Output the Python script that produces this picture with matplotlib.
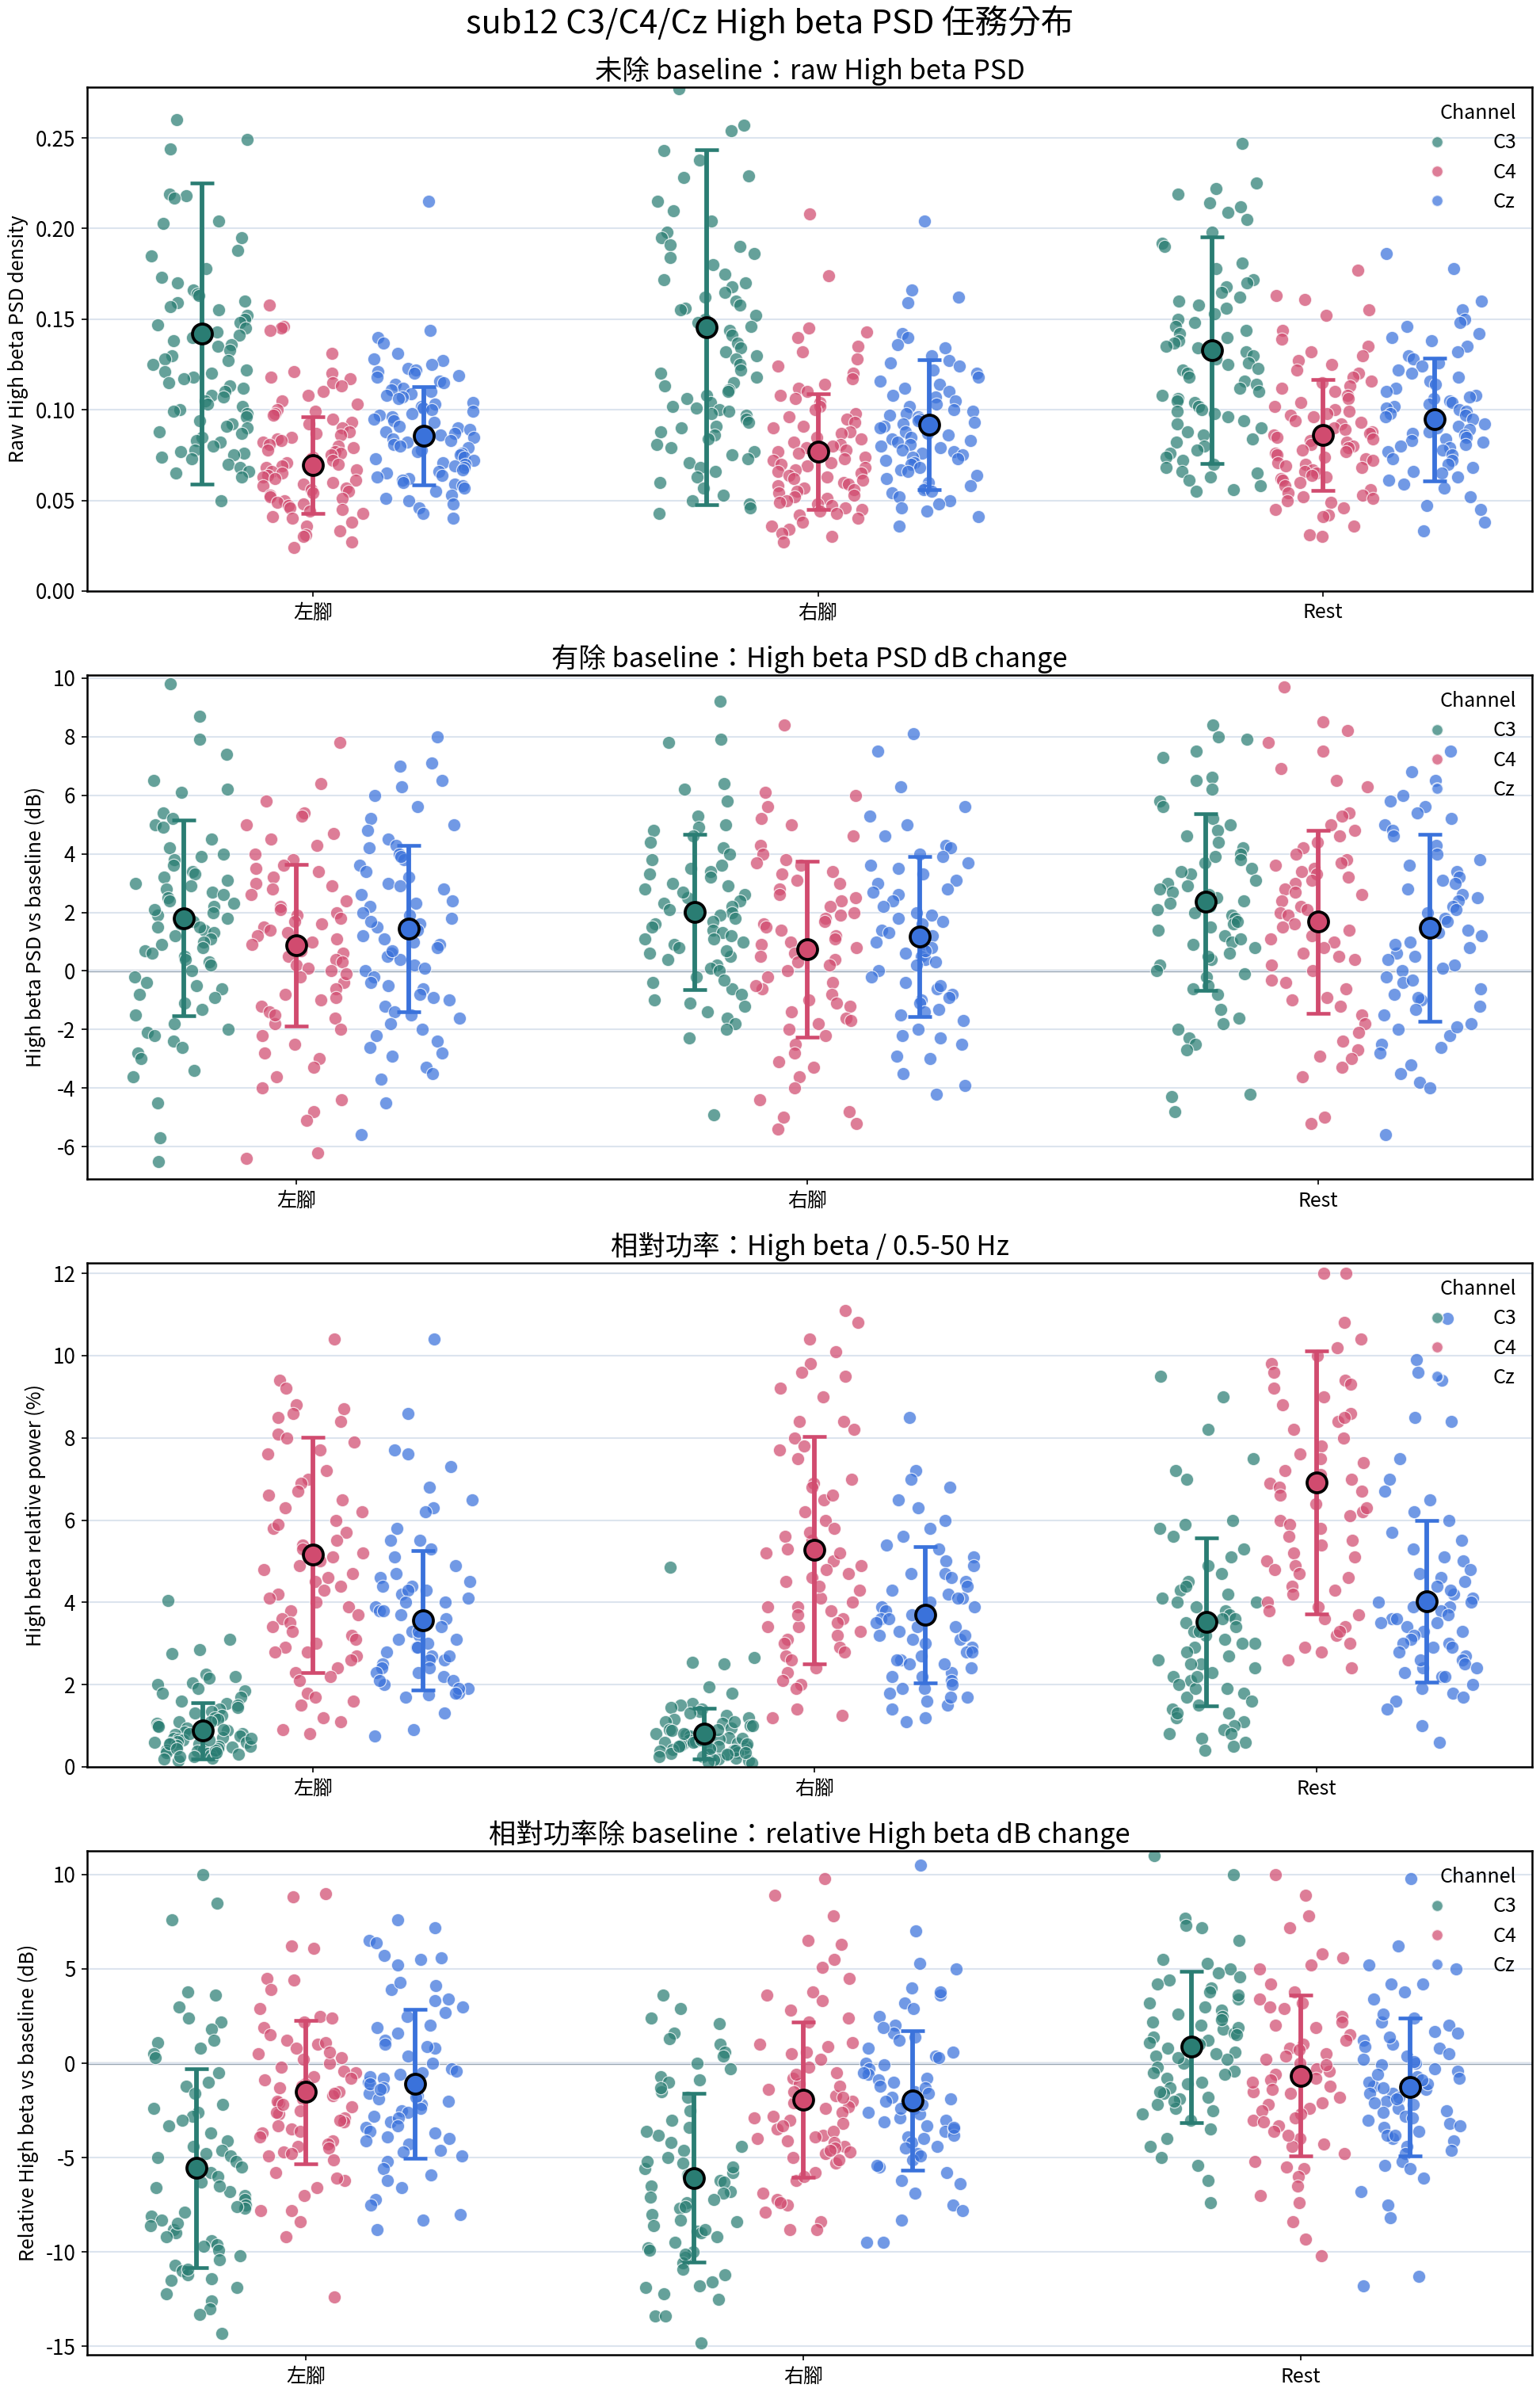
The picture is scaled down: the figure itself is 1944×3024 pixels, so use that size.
import matplotlib
matplotlib.use("Agg")
import matplotlib.pyplot as plt
import numpy as np
from matplotlib.lines import Line2D

plt.rcParams["font.family"] = ["Noto Sans CJK TC", "DejaVu Sans"]
plt.rcParams["axes.unicode_minus"] = False

# ----- categories / labels ---------------------------------------------------
tasks = ["左腳", "右腳", "Rest"]
channels = ["C3", "C4", "Cz"]
suptitle = "sub12 C3/C4/Cz High beta PSD 任務分布"
titles = [
    "未除 baseline：raw High beta PSD",
    "有除 baseline：High beta PSD dB change",
    "相對功率：High beta / 0.5-50 Hz",
    "相對功率除 baseline：relative High beta dB change",
]
ylabels = [
    "Raw High beta PSD density",
    "High beta PSD vs baseline (dB)",
    "High beta relative power (%)",
    "Relative High beta vs baseline (dB)",
]

# ----- panel 1: raw PSD ----------------------------------------------------
raw_left_c3 = [0.260, 0.249, 0.244, 0.219, 0.218, 0.217, 0.204, 0.203, 0.195, 0.188, 0.185, 0.178,
               0.173, 0.170, 0.166, 0.164, 0.163, 0.160, 0.159, 0.157, 0.155, 0.152, 0.150, 0.148,
               0.147, 0.145, 0.143, 0.141, 0.140, 0.138, 0.136, 0.135, 0.133, 0.130, 0.128, 0.127,
               0.125, 0.122, 0.121, 0.120, 0.118, 0.117, 0.115, 0.113, 0.112, 0.110, 0.108, 0.107,
               0.105, 0.103, 0.102, 0.100, 0.099, 0.098, 0.096, 0.094, 0.092, 0.091, 0.090, 0.088,
               0.087, 0.085, 0.083, 0.082, 0.080, 0.078, 0.077, 0.076, 0.075, 0.074, 0.073, 0.070,
               0.068, 0.066, 0.065, 0.063, 0.050]
raw_left_c4 = [0.158, 0.146, 0.145, 0.144, 0.131, 0.121, 0.120, 0.118, 0.117, 0.115, 0.113, 0.110,
               0.108, 0.105, 0.103, 0.100, 0.099, 0.098, 0.097, 0.095, 0.093, 0.092, 0.090, 0.088,
               0.087, 0.086, 0.085, 0.084, 0.083, 0.082, 0.081, 0.080, 0.079, 0.078, 0.077, 0.076,
               0.075, 0.074, 0.073, 0.072, 0.071, 0.070, 0.069, 0.068, 0.067, 0.066, 0.065, 0.064,
               0.063, 0.062, 0.061, 0.060, 0.059, 0.058, 0.057, 0.056, 0.055, 0.054, 0.053, 0.052,
               0.051, 0.050, 0.049, 0.048, 0.047, 0.046, 0.045, 0.044, 0.043, 0.041, 0.040, 0.038,
               0.036, 0.033, 0.031, 0.030, 0.027, 0.024]
raw_left_cz = [0.215, 0.144, 0.140, 0.137, 0.131, 0.128, 0.127, 0.125, 0.123, 0.122, 0.121, 0.120,
               0.119, 0.118, 0.116, 0.115, 0.114, 0.112, 0.111, 0.110, 0.109, 0.108, 0.107, 0.106,
               0.104, 0.103, 0.102, 0.101, 0.100, 0.099, 0.098, 0.097, 0.096, 0.095, 0.094, 0.093,
               0.091, 0.090, 0.089, 0.088, 0.087, 0.086, 0.085, 0.084, 0.083, 0.082, 0.081, 0.080,
               0.079, 0.078, 0.077, 0.076, 0.075, 0.074, 0.073, 0.072, 0.071, 0.070, 0.069, 0.068,
               0.067, 0.066, 0.065, 0.064, 0.063, 0.062, 0.061, 0.060, 0.059, 0.058, 0.057, 0.055,
               0.053, 0.051, 0.050, 0.048, 0.046, 0.043, 0.040]
raw_right_c3 = [0.277, 0.257, 0.254, 0.243, 0.238, 0.229, 0.228, 0.215, 0.210, 0.204, 0.198, 0.195,
                0.191, 0.190, 0.186, 0.184, 0.180, 0.175, 0.172, 0.170, 0.168, 0.165, 0.162, 0.160,
                0.158, 0.156, 0.155, 0.152, 0.150, 0.148, 0.146, 0.144, 0.141, 0.137, 0.134, 0.132,
                0.130, 0.128, 0.125, 0.122, 0.120, 0.118, 0.115, 0.113, 0.111, 0.110, 0.108, 0.106,
                0.104, 0.102, 0.101, 0.100, 0.099, 0.098, 0.097, 0.095, 0.093, 0.091, 0.090, 0.088,
                0.086, 0.084, 0.081, 0.079, 0.077, 0.075, 0.073, 0.071, 0.068, 0.066, 0.063, 0.060,
                0.057, 0.053, 0.050, 0.048, 0.046, 0.043]
raw_right_c4 = [0.208, 0.174, 0.145, 0.143, 0.140, 0.135, 0.132, 0.128, 0.124, 0.120, 0.117, 0.114,
                0.112, 0.110, 0.108, 0.106, 0.104, 0.102, 0.100, 0.098, 0.096, 0.095, 0.093, 0.091,
                0.090, 0.088, 0.087, 0.085, 0.084, 0.082, 0.081, 0.080, 0.079, 0.078, 0.077, 0.076,
                0.075, 0.074, 0.073, 0.072, 0.071, 0.070, 0.069, 0.068, 0.067, 0.066, 0.065, 0.064,
                0.063, 0.062, 0.061, 0.060, 0.059, 0.058, 0.057, 0.056, 0.055, 0.054, 0.053, 0.052,
                0.051, 0.050, 0.049, 0.048, 0.047, 0.046, 0.045, 0.044, 0.043, 0.042, 0.040, 0.038,
                0.036, 0.034, 0.032, 0.030, 0.027]
raw_right_cz = [0.204, 0.166, 0.162, 0.159, 0.142, 0.140, 0.136, 0.134, 0.130, 0.127, 0.126, 0.124,
                0.122, 0.120, 0.118, 0.116, 0.114, 0.112, 0.110, 0.108, 0.107, 0.105, 0.103, 0.102,
                0.100, 0.099, 0.098, 0.097, 0.096, 0.095, 0.094, 0.093, 0.092, 0.091, 0.090, 0.089,
                0.088, 0.087, 0.086, 0.085, 0.084, 0.083, 0.082, 0.081, 0.080, 0.079, 0.078, 0.077,
                0.076, 0.075, 0.074, 0.073, 0.072, 0.071, 0.070, 0.068, 0.067, 0.066, 0.064, 0.062,
                0.060, 0.058, 0.057, 0.056, 0.055, 0.054, 0.052, 0.050, 0.048, 0.046, 0.044, 0.041,
                0.036]
raw_rest_c3 = [0.247, 0.225, 0.222, 0.219, 0.214, 0.212, 0.209, 0.205, 0.198, 0.192, 0.190, 0.181,
               0.178, 0.172, 0.170, 0.168, 0.165, 0.162, 0.160, 0.158, 0.156, 0.153, 0.150, 0.148,
               0.146, 0.144, 0.142, 0.140, 0.138, 0.137, 0.135, 0.134, 0.132, 0.130, 0.128, 0.126,
               0.125, 0.123, 0.122, 0.120, 0.118, 0.116, 0.114, 0.112, 0.110, 0.108, 0.106, 0.105,
               0.104, 0.102, 0.100, 0.099, 0.098, 0.096, 0.094, 0.092, 0.090, 0.088, 0.086, 0.084,
               0.082, 0.080, 0.078, 0.076, 0.074, 0.072, 0.070, 0.068, 0.066, 0.065, 0.063, 0.061,
               0.058, 0.056, 0.055]
raw_rest_c4 = [0.177, 0.163, 0.161, 0.155, 0.152, 0.144, 0.139, 0.135, 0.132, 0.130, 0.127, 0.125,
               0.122, 0.120, 0.118, 0.116, 0.115, 0.113, 0.112, 0.110, 0.108, 0.106, 0.104, 0.102,
               0.100, 0.099, 0.098, 0.097, 0.096, 0.094, 0.093, 0.092, 0.090, 0.089, 0.088, 0.087,
               0.086, 0.085, 0.084, 0.083, 0.082, 0.081, 0.080, 0.079, 0.078, 0.077, 0.076, 0.075,
               0.074, 0.073, 0.072, 0.071, 0.070, 0.069, 0.068, 0.067, 0.066, 0.065, 0.064, 0.063,
               0.062, 0.061, 0.060, 0.058, 0.056, 0.054, 0.053, 0.052, 0.051, 0.050, 0.049, 0.046,
               0.045, 0.042, 0.041, 0.036, 0.031, 0.030]
raw_rest_cz = [0.186, 0.178, 0.160, 0.155, 0.150, 0.148, 0.146, 0.142, 0.140, 0.138, 0.135, 0.132,
               0.130, 0.128, 0.126, 0.124, 0.122, 0.120, 0.118, 0.116, 0.114, 0.112, 0.110, 0.108,
               0.107, 0.106, 0.105, 0.104, 0.103, 0.102, 0.101, 0.100, 0.099, 0.098, 0.097, 0.096,
               0.095, 0.094, 0.093, 0.092, 0.091, 0.090, 0.089, 0.088, 0.087, 0.086, 0.085, 0.084,
               0.083, 0.082, 0.081, 0.080, 0.079, 0.078, 0.077, 0.075, 0.073, 0.072, 0.070, 0.068,
               0.066, 0.065, 0.063, 0.061, 0.059, 0.057, 0.052, 0.047, 0.045, 0.038, 0.033]

# ----- panel 2: PSD dB change vs baseline ----------------------------------
db_left_c3 = [9.8, 8.7, 7.9, 7.4, 6.5, 6.2, 6.1, 5.4, 5.2, 5.0, 4.9, 4.5, 4.2, 4.0, 3.9, 3.8, 3.6,
              3.4, 3.3, 3.2, 3.0, 2.9, 2.8, 2.7, 2.6, 2.5, 2.4, 2.3, 2.2, 2.0, 1.9, 1.8, 1.7, 1.6,
              1.5, 1.4, 1.3, 1.2, 1.1, 1.0, 0.9, 0.8, 0.7, 0.5, 0.4, 0.3, 0.2, 0.0, -0.2, -0.4,
              -0.5, -0.6, -0.8, -0.9, -1.1, -1.3, -1.5, -1.8, -2.0, -2.1, -2.2, -2.4, -2.6, -2.8,
              -3.0, -3.4, -3.6, -4.5, -5.7, -6.5, 3.1, 2.1, 1.5, 0.6]
db_left_c4 = [7.8, 6.4, 5.8, 5.4, 5.3, 5.0, 4.7, 4.5, 4.3, 4.0, 3.8, 3.6, 3.4, 3.2, 3.0, 2.8, 2.6,
              2.4, 2.2, 2.0, 1.9, 1.8, 1.7, 1.5, 1.4, 1.3, 1.2, 1.0, 0.9, 0.8, 0.7, 0.6, 0.5, 0.4,
              0.2, 0.1, 0.0, -0.2, -0.4, -0.6, -0.8, -1.0, -1.2, -1.4, -1.6, -1.8, -2.0, -2.2,
              -2.5, -2.8, -3.0, -3.3, -3.6, -4.0, -4.4, -4.8, -5.1, -6.2, -6.4, 3.5, 2.9, 2.1,
              1.6, 1.1, 0.3, -0.1, -0.9, -1.5]
db_left_cz = [8.0, 7.1, 7.0, 6.5, 6.3, 6.0, 5.6, 5.2, 5.0, 4.8, 4.5, 4.3, 4.2, 4.0, 3.8, 3.6, 3.4,
              3.2, 3.0, 2.8, 2.6, 2.4, 2.2, 2.0, 1.9, 1.8, 1.6, 1.5, 1.4, 1.3, 1.2, 1.0, 0.9, 0.8,
              0.6, 0.5, 0.4, 0.2, 0.0, -0.2, -0.4, -0.6, -0.8, -1.0, -1.2, -1.4, -1.6, -1.8, -2.0,
              -2.2, -2.4, -2.6, -2.8, -2.9, -3.3, -3.5, -3.7, -4.5, -5.6, 3.9, 2.9, 2.3, 1.7,
              1.1, 0.7, 0.1, -0.5, -0.9, -1.5]
db_right_c3 = [9.2, 7.9, 7.8, 6.4, 6.2, 5.8, 5.3, 5.0, 4.9, 4.8, 4.6, 4.4, 4.2, 4.0, 3.8, 3.6, 3.5,
               3.4, 3.2, 3.0, 2.9, 2.8, 2.6, 2.5, 2.4, 2.3, 2.2, 2.1, 2.0, 1.9, 1.8, 1.7, 1.6, 1.5,
               1.4, 1.3, 1.2, 1.1, 1.0, 0.9, 0.8, 0.6, 0.5, 0.4, 0.2, 0.1, 0.0, -0.2, -0.4, -0.6,
               -0.8, -1.0, -1.2, -1.4, -1.6, -1.8, -2.0, -2.3, -4.9, 3.3, 2.7, 2.0, 1.1, 0.7,
               -0.3, -1.1]
db_right_c4 = [8.4, 6.1, 6.0, 5.6, 5.2, 5.0, 4.6, 4.3, 4.0, 3.8, 3.6, 3.4, 3.3, 3.1, 3.0, 2.8, 2.6,
               2.4, 2.2, 2.0, 1.9, 1.8, 1.6, 1.5, 1.4, 1.2, 1.0, 0.9, 0.8, 0.6, 0.5, 0.4, 0.2, 0.0,
               -0.2, -0.4, -0.6, -0.8, -1.0, -1.2, -1.4, -1.6, -1.8, -2.0, -2.2, -2.5, -2.8, -3.1,
               -3.3, -3.6, -4.0, -4.4, -4.8, -5.0, -5.2, -5.4, 3.7, 2.5, 1.7, 1.1, 0.3, -0.5,
               -1.1, -1.7]
db_right_cz = [8.1, 7.5, 6.3, 5.6, 5.3, 5.0, 4.6, 4.3, 4.2, 4.0, 3.9, 3.7, 3.5, 3.3, 3.1, 3.0, 2.8,
               2.6, 2.4, 2.2, 2.0, 1.9, 1.8, 1.6, 1.4, 1.2, 1.1, 1.0, 0.9, 0.8, 0.6, 0.5, 0.4, 0.2,
               0.0, -0.2, -0.4, -0.6, -0.8, -1.0, -1.1, -1.3, -1.5, -1.7, -2.0, -2.2, -2.5, -2.9,
               -3.0, -3.5, -3.9, -4.2, 2.7, 1.7, 1.3, 0.7, 0.3, -0.5, -0.9, -1.4, -2.3, 3.6]
db_rest_c3 = [8.4, 8.0, 7.9, 7.5, 7.3, 6.6, 6.5, 6.2, 5.8, 5.6, 5.2, 5.0, 4.8, 4.6, 4.4, 4.2, 4.0,
              3.8, 3.7, 3.5, 3.3, 3.1, 3.0, 2.8, 2.7, 2.5, 2.4, 2.3, 2.2, 2.1, 2.0, 1.9, 1.8, 1.6,
              1.5, 1.4, 1.2, 1.0, 0.9, 0.8, 0.6, 0.4, 0.2, 0.0, -0.2, -0.5, -0.8, -1.3, -1.6, -1.8,
              -2.0, -2.3, -2.5, -2.7, -4.2, -4.3, -4.8, 3.9, 3.4, 2.9, 2.6, 1.7, 1.1, 0.5, -0.1,
              -0.6]
db_rest_c4 = [9.7, 8.5, 8.2, 7.8, 7.5, 6.9, 6.5, 6.3, 5.4, 5.3, 5.0, 4.8, 4.6, 4.4, 4.2, 4.0, 3.8,
              3.6, 3.5, 3.4, 3.3, 3.1, 3.0, 2.8, 2.6, 2.4, 2.2, 2.0, 1.9, 1.8, 1.6, 1.5, 1.4, 1.2,
              1.0, 0.8, 0.6, 0.4, 0.2, 0.0, -0.3, -0.6, -0.9, -1.2, -1.5, -1.8, -2.1, -2.4, -2.7,
              -3.0, -3.3, -3.6, -5.0, -5.2, 3.7, 3.2, 2.7, 2.1, 1.7, 1.1, 0.5, -0.4, -1.0, -2.9]
db_rest_cz = [7.5, 6.8, 6.5, 6.0, 5.8, 5.6, 5.4, 5.2, 5.0, 4.8, 4.6, 4.3, 4.0, 3.8, 3.6, 3.4, 3.2,
              3.0, 2.8, 2.6, 2.4, 2.2, 2.0, 1.8, 1.6, 1.4, 1.2, 1.0, 0.8, 0.6, 0.4, 0.2, 0.0, -0.2,
              -0.4, -0.6, -0.8, -1.0, -1.2, -1.5, -1.8, -2.0, -2.2, -2.5, -2.8, -3.2, -3.5, -3.8,
              -4.0, -5.6, 3.1, 2.5, 2.1, 1.7, 1.3, 0.9, 0.5, 0.1, -0.3, -0.9, -1.3, -1.9, -2.6]

# ----- panel 3: relative power (%) -----------------------------------------
rel_left_c3 = [4.05, 3.1, 2.85, 2.75, 2.25, 2.2, 2.15, 2.05, 2.0, 1.9, 1.85, 1.8, 1.7, 1.6, 1.55,
               1.5, 1.45, 1.4, 1.35, 1.3, 1.25, 1.2, 1.15, 1.1, 1.05, 1.0, 0.98, 0.95, 0.9, 0.88,
               0.85, 0.8, 0.78, 0.75, 0.72, 0.7, 0.68, 0.65, 0.62, 0.6, 0.58, 0.55, 0.52, 0.5, 0.48,
               0.45, 0.43, 0.4, 0.38, 0.35, 0.33, 0.3, 0.28, 0.25, 0.22, 0.2, 0.15, 0.5, 0.55, 0.6,
               0.4, 0.35, 0.45, 0.65, 0.7, 0.3, 0.25, 0.9, 1.1, 0.8]
rel_left_c4 = [10.4, 9.4, 9.2, 8.8, 8.7, 8.6, 8.5, 8.4, 8.1, 8.0, 7.9, 7.7, 7.6, 7.2, 7.0, 6.9, 6.7,
               6.5, 6.3, 6.2, 6.0, 5.8, 5.7, 5.5, 5.4, 5.3, 5.2, 5.0, 4.9, 4.7, 4.6, 4.5, 4.4, 4.2,
               4.1, 4.0, 3.9, 3.8, 3.6, 3.5, 3.4, 3.3, 3.2, 3.1, 3.0, 2.9, 2.8, 2.7, 2.6, 2.4, 2.3,
               2.2, 2.1, 1.8, 1.7, 1.6, 1.5, 1.2, 1.1, 0.9, 0.8, 5.9, 5.1, 4.8, 4.3, 3.7, 2.8, 6.6]
rel_left_cz = [10.4, 8.6, 7.7, 7.6, 7.3, 6.8, 6.5, 6.3, 6.2, 5.8, 5.5, 5.5, 5.3, 5.1, 4.9, 4.7, 4.6,
               4.5, 4.4, 4.3, 4.2, 4.1, 4.0, 3.9, 3.8, 3.7, 3.6, 3.5, 3.4, 3.3, 3.2, 3.1, 3.0, 2.9,
               2.8, 2.7, 2.6, 2.5, 2.4, 2.3, 2.2, 2.1, 2.0, 1.9, 1.8, 1.7, 1.3, 0.9, 0.75, 4.3, 4.0,
               3.7, 3.5, 3.3, 2.9, 2.6, 2.4, 2.1, 1.9, 1.75, 4.4, 3.8, 3.1, 2.7, 2.3, 1.8]
rel_right_c3 = [4.85, 2.65, 2.55, 2.5, 1.95, 1.8, 1.55, 1.5, 1.45, 1.4, 1.35, 1.3, 1.25, 1.2, 1.15,
                1.1, 1.05, 1.0, 0.95, 0.9, 0.88, 0.85, 0.8, 0.78, 0.75, 0.72, 0.7, 0.68, 0.65, 0.62,
                0.6, 0.58, 0.55, 0.52, 0.5, 0.48, 0.45, 0.43, 0.4, 0.38, 0.35, 0.32, 0.3, 0.28, 0.25,
                0.22, 0.2, 0.18, 0.15, 0.12, 0.1, 1.0, 0.5, 0.6, 0.4, 0.3, 0.7, 0.9, 0.55, 0.45,
                0.35, 0.65, 0.8, 1.1, 0.25, 0.5]
rel_right_c4 = [11.1, 10.8, 10.4, 10.1, 9.8, 9.6, 9.5, 9.2, 9.0, 8.4, 8.4, 8.2, 8.0, 7.8, 7.7, 7.5,
                7.0, 6.9, 6.8, 6.5, 6.2, 6.0, 5.8, 5.6, 5.5, 5.3, 5.2, 5.0, 4.9, 4.7, 4.6, 4.5, 4.3,
                4.1, 4.0, 3.9, 3.8, 3.6, 3.5, 3.4, 3.3, 3.2, 3.1, 3.0, 2.9, 2.7, 2.6, 2.4, 2.3, 2.1,
                2.0, 1.9, 1.4, 1.25, 1.2, 5.7, 5.2, 4.4, 3.9, 3.4, 2.8, 6.6, 4.8, 3.7]
rel_right_cz = [8.5, 7.2, 7.0, 6.8, 6.5, 6.3, 6.0, 5.8, 5.6, 5.4, 5.3, 5.1, 5.0, 4.9, 4.7, 4.6, 4.5,
                4.4, 4.2, 4.1, 4.0, 3.9, 3.8, 3.7, 3.6, 3.5, 3.4, 3.3, 3.2, 3.1, 3.0, 2.9, 2.8, 2.7,
                2.6, 2.5, 2.4, 2.3, 2.2, 2.1, 2.0, 1.9, 1.8, 1.7, 1.6, 1.5, 1.4, 1.2, 1.1, 4.3, 3.9,
                3.6, 3.4, 3.1, 2.8, 2.5, 2.2, 1.9, 4.7, 4.1, 3.7, 3.2, 2.6, 1.7]
rel_rest_c3 = [9.5, 9.0, 8.2, 7.5, 7.2, 7.0, 6.0, 5.8, 5.6, 5.3, 5.1, 4.9, 4.7, 4.5, 4.3, 4.1, 4.0,
               3.9, 3.8, 3.7, 3.6, 3.5, 3.4, 3.3, 3.2, 3.1, 3.0, 2.9, 2.8, 2.7, 2.6, 2.5, 2.4, 2.3,
               2.2, 2.1, 2.0, 1.9, 1.8, 1.7, 1.6, 1.5, 1.4, 1.3, 1.2, 1.1, 1.0, 0.9, 0.8, 0.7, 0.6,
               0.5, 0.4, 4.4, 4.0, 3.6, 3.0, 2.5, 1.9, 1.3, 0.8, 5.9, 4.2, 3.3, 2.2]
rel_rest_c4 = [12.0, 12.0, 10.8, 10.4, 10.2, 10.0, 9.8, 9.6, 9.4, 9.2, 9.0, 8.8, 8.6, 8.4, 8.2, 8.0,
               7.8, 7.6, 7.5, 7.4, 7.2, 7.0, 6.9, 6.8, 6.6, 6.4, 6.2, 6.0, 5.9, 5.8, 5.6, 5.4, 5.2,
               5.0, 4.9, 4.8, 4.6, 4.4, 4.2, 4.0, 3.9, 3.8, 3.6, 3.4, 3.2, 3.0, 2.8, 2.6, 2.4, 7.1,
               6.3, 5.5, 4.7, 3.7, 9.3, 8.5, 6.7, 5.1, 4.3, 3.3, 2.9, 6.1]
rel_rest_cz = [10.9, 9.9, 9.6, 9.4, 8.5, 8.4, 7.5, 7.0, 6.7, 6.5, 6.2, 6.0, 5.7, 5.5, 5.3, 5.0, 4.8,
               4.6, 4.5, 4.4, 4.2, 4.1, 4.0, 3.9, 3.8, 3.7, 3.6, 3.5, 3.4, 3.3, 3.2, 3.1, 3.0, 2.9,
               2.8, 2.7, 2.6, 2.5, 2.4, 2.3, 2.2, 2.0, 1.9, 1.8, 1.6, 1.4, 1.0, 0.6, 4.3, 3.9, 3.6,
               3.3, 3.0, 2.6, 2.2, 4.7, 4.0, 3.5, 2.9, 2.4, 1.7, 5.1]

# ----- panel 4: relative power dB change vs baseline -----------------------
reldb_left_c3 = [10.0, 8.5, 7.6, 3.8, 3.6, 3.0, 2.4, 2.2, 1.8, 1.2, 1.1, 0.8, 0.5, 0.3, -0.5, -1.0,
                 -1.2, -1.6, -2.2, -2.4, -2.6, -2.8, -3.3, -3.7, -4.1, -4.4, -4.6, -4.9, -5.2, -5.5,
                 -5.8, -6.0, -6.3, -6.6, -6.8, -7.0, -7.2, -7.5, -7.7, -7.9, -8.1, -8.3, -8.6, -8.8,
                 -9.0, -9.2, -9.4, -9.6, -9.9, -10.2, -10.4, -10.7, -11.0, -11.2, -11.4, -11.5,
                 -11.9, -12.2, -12.6, -13.0, -13.3, -14.3, -4.8, -6.5, -7.6, -8.5, -9.7, -3.0,
                 -5.0, -10.9]
reldb_left_c4 = [9.0, 8.8, 6.2, 6.1, 4.5, 4.4, 3.9, 2.9, 2.5, 2.2, 1.9, 1.5, 1.2, 1.0, 0.8, 0.5, 0.3,
                 0.0, -0.2, -0.5, -0.7, -0.9, -1.1, -1.3, -1.5, -1.7, -1.9, -2.1, -2.3, -2.5, -2.7,
                 -2.9, -3.1, -3.3, -3.5, -3.7, -3.9, -4.1, -4.3, -4.5, -4.7, -4.9, -5.1, -5.8, -6.2,
                 -6.6, -7.0, -7.8, -8.4, -9.2, -12.4, 2.4, 1.1, 0.6, -0.4, -0.8, -1.6, -2.0, -2.6,
                 -3.0, -3.6, -4.4, -4.8, 0.2, -1.2, -2.2, -6.1, -7.8]
reldb_left_cz = [7.6, 7.2, 6.5, 6.4, 5.6, 5.5, 5.2, 4.1, 3.9, 3.3, 3.0, 2.5, 2.0, 1.6, 1.2, 0.8, 0.4,
                 0.0, -0.3, -0.6, -0.8, -1.0, -1.3, -1.6, -1.9, -2.2, -2.5, -2.8, -3.1, -3.4, -3.7,
                 -4.0, -4.3, -4.6, -4.9, -5.2, -5.6, -6.2, -6.6, -7.2, -7.5, -8.0, -8.3, -8.8, 2.7,
                 1.9, 0.9, -0.4, -0.7, -1.1, -1.4, -1.7, -2.0, -2.6, -2.9, -3.3, -3.6, -4.1, -0.5,
                 -1.8, -3.9, 5.7, 4.3, 3.4, 1.0, -2.4, -4.7, -5.9]
reldb_right_c3 = [3.6, 2.9, 2.4, 2.1, 1.6, 1.3, 1.0, 0.6, 0.4, 0.0, -0.3, -0.7, -1.0, -1.5, -1.8,
                  -2.5, -3.0, -3.4, -3.8, -4.2, -4.6, -5.0, -5.3, -5.6, -5.9, -6.2, -6.5, -6.8,
                  -7.1, -7.4, -7.7, -8.0, -8.3, -8.6, -8.9, -9.2, -9.5, -9.8, -10.0, -10.3, -10.6,
                  -10.9, -11.2, -11.6, -11.9, -12.2, -12.5, -13.4, -14.8, -5.2, -5.8, -6.3, -6.9,
                  -7.6, -8.4, -9.0, -10.1, -4.4, -3.6, -5.5, -6.0, -7.2, -8.8, -9.9, -11.8, -13.4,
                  -1.3, -0.9]
reldb_right_c4 = [9.8, 8.9, 7.8, 6.5, 6.3, 5.5, 5.1, 4.5, 3.8, 3.6, 3.3, 2.4, 2.2, 1.0, 0.9, 0.6, 0.2,
                  -0.2, -0.5, -0.8, -1.1, -1.4, -1.7, -2.0, -2.3, -2.6, -2.9, -3.2, -3.5, -3.8, -4.1,
                  -4.4, -4.7, -5.0, -5.3, -5.8, -6.2, -6.9, -7.2, -7.5, -7.9, -8.4, -8.8, -1.2,
                  -1.8, -2.4, -3.0, -3.6, -4.2, -4.8, -0.6, -2.1, -2.8, -3.9, -4.5, -5.1, 0.5,
                  -1.5, -3.3, -4.0, -4.6, 1.1, -6.0, -7.4, -8.8, 2.8]
reldb_right_cz = [10.5, 7.0, 5.3, 5.0, 4.0, 3.6, 3.2, 2.5, 2.0, 1.6, 1.2, 0.8, 0.4, 0.0, -0.3, -0.6,
                  -0.9, -1.2, -1.5, -1.8, -2.1, -2.4, -2.7, -3.0, -3.3, -3.6, -3.9, -4.2, -4.5,
                  -4.8, -5.1, -5.5, -5.8, -6.4, -6.9, -7.5, -7.8, -8.3, -9.5, -9.5, 1.4, 0.6, -0.1,
                  -0.8, -1.3, -1.9, -2.2, -2.6, -3.1, -3.5, -4.0, -4.4, -0.5, -1.6, -2.9, -3.8,
                  -4.9, 2.9, 1.9, -1.0, -2.0, -5.4, -6.2, 3.8, 0.3, -2.4, -3.4]
reldb_rest_c3 = [11.0, 10.0, 7.7, 7.3, 7.2, 6.5, 5.5, 5.3, 5.0, 4.8, 4.4, 4.0, 3.8, 3.4, 3.0, 2.8,
                 2.5, 2.2, 2.0, 1.8, 1.6, 1.4, 1.2, 1.0, 0.8, 0.6, 0.4, 0.2, 0.0, -0.2, -0.5, -0.8,
                 -1.0, -1.3, -1.6, -1.9, -2.2, -2.4, -2.7, -3.0, -3.5, -4.0, -4.4, -5.0, -5.4,
                 -6.2, -7.4, 4.2, 3.2, 2.6, 1.9, 1.5, 0.9, 0.3, -0.4, -1.1, -1.8, -2.5, 3.6, 2.3,
                 1.1, -0.6, -2.0, 4.6, 0.5, -1.5]
reldb_rest_c4 = [10.0, 8.9, 7.8, 7.2, 5.8, 5.6, 5.2, 5.0, 4.2, 3.8, 3.4, 3.0, 2.5, 2.0, 1.5, 1.2, 0.8,
                 0.5, 0.2, 0.0, -0.3, -0.6, -0.9, -1.2, -1.5, -1.8, -2.1, -2.4, -2.7, -3.0, -3.3,
                 -3.6, -4.0, -4.4, -4.8, -5.2, -5.6, -6.0, -6.5, -7.0, -7.4, -8.4, -9.3, -10.2,
                 2.2, 1.0, 0.4, -0.4, -1.0, -1.6, -2.2, -2.9, -3.8, 1.9, -0.8, -2.5, -4.3, 3.2,
                 0.7, -1.4, -3.1, -5.5, 2.9, -0.1]
reldb_rest_cz = [9.8, 6.2, 5.2, 5.0, 4.2, 3.8, 3.4, 2.4, 2.0, 1.6, 1.2, 0.8, 0.4, 0.0, -0.4, -0.8,
                 -1.2, -1.6, -2.0, -2.4, -2.8, -3.2, -3.6, -4.0, -4.4, -4.8, -5.2, -5.6, -6.1,
                 -6.8, -7.5, -8.2, -11.3, -11.8, 2.2, 1.7, 1.0, 0.5, 0.1, -0.3, -0.7, -1.0, -1.4,
                 -1.8, -2.2, -2.6, -3.0, -3.4, -3.8, 1.4, 0.9, -0.1, -0.6, -1.1, -1.6, -2.1,
                 -2.5, -3.3, -4.1, -4.6, 2.6, -0.9, -1.9, -2.9, -5.4, 4.2, 0.2, -1.3, -3.8]

# ----- mean and SD (task x channel) -----------------------------------------
raw_mean = [[0.142, 0.0695, 0.0856], [0.1457, 0.0769, 0.0919], [0.1327, 0.086, 0.0947]]
raw_sd = [[0.083, 0.0268, 0.0272], [0.098, 0.0318, 0.0358], [0.0625, 0.0307, 0.034]]
db_mean = [[1.81, 0.88, 1.44], [2.02, 0.75, 1.17], [2.36, 1.68, 1.47]]
db_sd = [[3.35, 2.77, 2.84], [2.65, 3.00, 2.73], [3.02, 3.12, 3.20]]
rel_mean = [[0.88, 5.16, 3.56], [0.81, 5.27, 3.70], [3.52, 6.92, 4.03]]
rel_sd = [[0.68, 2.86, 1.69], [0.62, 2.76, 1.65], [2.04, 3.20, 1.96]]
reldb_mean = [[-5.56, -1.52, -1.09], [-6.07, -1.94, -1.97], [0.87, -0.65, -1.25]]
reldb_sd = [[5.27, 3.81, 3.95], [4.48, 4.12, 3.70], [4.00, 4.25, 3.64]]

panels = [
    ([[raw_left_c3, raw_left_c4, raw_left_cz],
      [raw_right_c3, raw_right_c4, raw_right_cz],
      [raw_rest_c3, raw_rest_c4, raw_rest_cz]], raw_mean, raw_sd),
    ([[db_left_c3, db_left_c4, db_left_cz],
      [db_right_c3, db_right_c4, db_right_cz],
      [db_rest_c3, db_rest_c4, db_rest_cz]], db_mean, db_sd),
    ([[rel_left_c3, rel_left_c4, rel_left_cz],
      [rel_right_c3, rel_right_c4, rel_right_cz],
      [rel_rest_c3, rel_rest_c4, rel_rest_cz]], rel_mean, rel_sd),
    ([[reldb_left_c3, reldb_left_c4, reldb_left_cz],
      [reldb_right_c3, reldb_right_c4, reldb_right_cz],
      [reldb_rest_c3, reldb_rest_c4, reldb_rest_cz]], reldb_mean, reldb_sd),
]

# ----- style ----------------------------------------------------------------
colors = {"C3": "#2a7d73", "C4": "#d14b6f", "Cz": "#3a72db"}
offsets = [-0.22, 0.0, 0.22]
ylims = [(0, 0.278), (-7.1, 10.1), (0, 12.25), (-15.45, 11.25)]
xlims = [(-0.447, 2.414), (-0.41, 2.42), (-0.45, 2.43), (-0.44, 2.465)]
zero_line = [False, True, False, True]

rng = np.random.default_rng(12)  # horizontal jitter only

fig, axes = plt.subplots(4, 1, figsize=(12.96, 20.16), dpi=150)
fig.subplots_adjust(left=0.0565, right=0.995, top=0.9636, bottom=0.0172, hspace=0.167)
fig.suptitle(suptitle, fontsize=20, fontweight="medium", y=0.998)

for p, ax in enumerate(axes):
    groups, means, sds = panels[p]
    ax.grid(axis="y", color="#dce4ee", linewidth=1.0, zorder=0)
    if zero_line[p]:
        ax.axhline(0, color="#98a4b0", linewidth=1.6, zorder=1)
    for t in range(len(tasks)):
        for c, ch in enumerate(channels):
            vals = np.asarray(groups[t][c])
            xs = t + offsets[c] + rng.uniform(-0.1, 0.1, len(vals))
            ax.scatter(xs, vals, s=62, color=colors[ch], alpha=0.72,
                       edgecolors="white", linewidths=0.6, zorder=2)
            ax.errorbar(t + offsets[c], means[t][c], yerr=sds[t][c],
                        color=colors[ch], linewidth=2.8, capsize=7, capthick=2.2,
                        zorder=3)
            ax.plot(t + offsets[c], means[t][c], "o", markersize=12,
                    markerfacecolor=colors[ch], markeredgecolor="black",
                    markeredgewidth=1.8, zorder=4)
    ax.set_xticks(range(len(tasks)))
    ax.set_xticklabels(tasks, fontsize=12)
    ax.tick_params(axis="y", labelsize=12.5)
    ax.set_xlim(*xlims[p])
    ax.set_ylim(*ylims[p])
    if p == 0:
        ax.yaxis.set_major_formatter(matplotlib.ticker.FormatStrFormatter("%.2f"))
    ax.set_ylabel(ylabels[p], fontsize=12)
    ax.set_title(titles[p], fontsize=16.5, fontweight="medium", pad=5)
    for sp in ax.spines.values():
        sp.set_linewidth(1.2)

    handles = [Line2D([], [], marker="o", linestyle="", markersize=7,
                      color=colors[ch], alpha=0.72, markeredgecolor="white")
               for ch in channels]
    ax.legend(handles, channels, title="Channel", loc="upper right",
              frameon=False, fontsize=12, title_fontsize=12,
              alignment="right", handletextpad=1.8, labelspacing=0.45,
              borderaxespad=0.4)

fig.savefig("out.png", dpi=150)
